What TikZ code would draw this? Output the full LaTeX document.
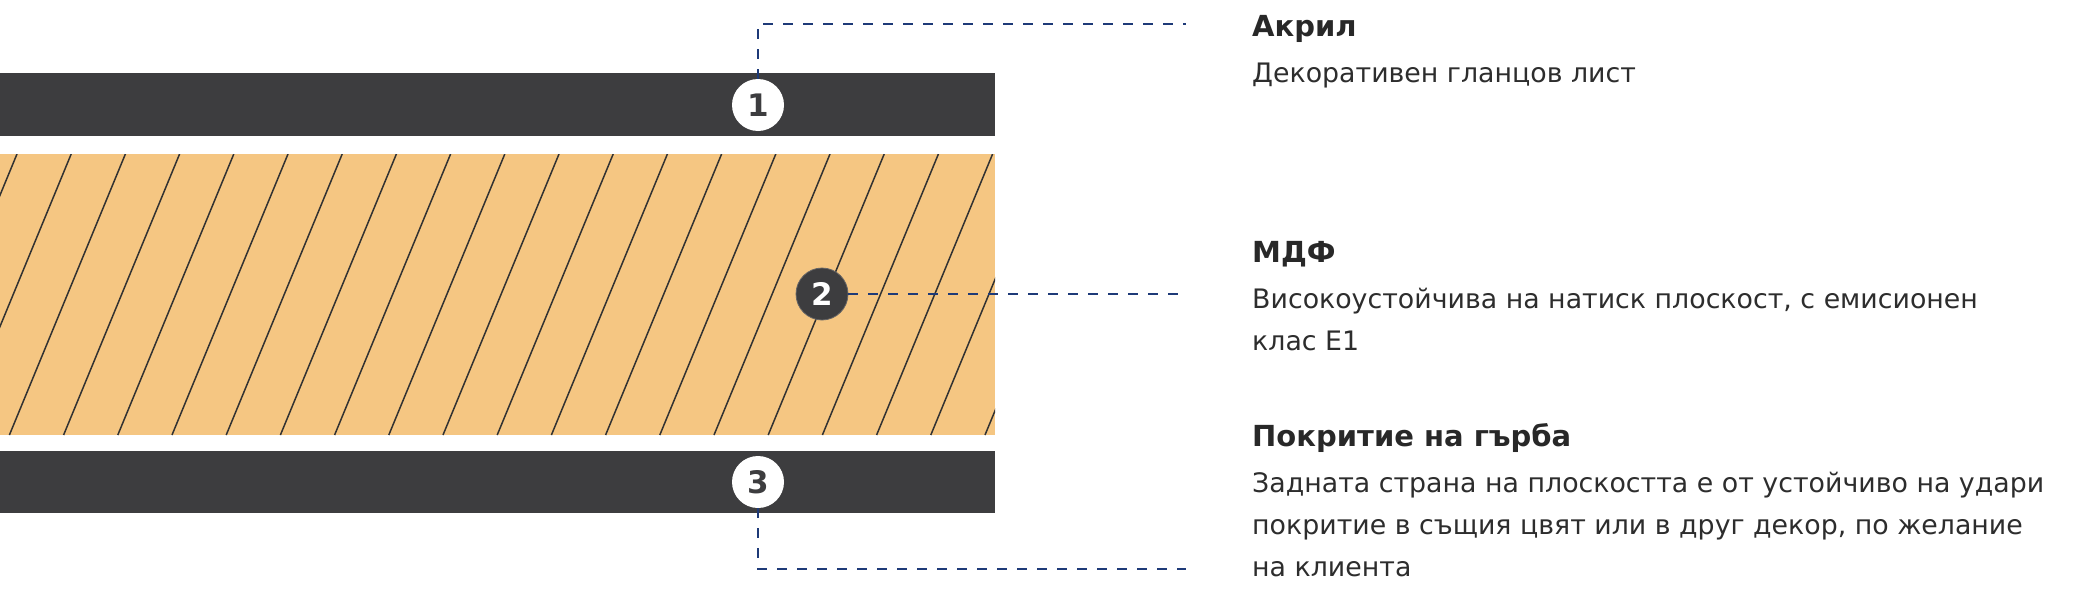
\documentclass[tikz,border=0pt]{standalone}
\usepackage{fontspec}
\setmainfont{DejaVu Sans}
\definecolor{bar}{RGB}{61,61,63}
\definecolor{mdf}{RGB}{245,198,130}
\definecolor{hatch}{RGB}{50,50,50}
\definecolor{leadc}{RGB}{30,58,120}
\definecolor{titlec}{RGB}{40,40,40}
\definecolor{bodyc}{RGB}{45,45,45}
\tikzset{
  leader/.style={draw=leadc, line width=2pt, dash pattern=on 10pt off 10pt},
  numw/.style={circle, fill=white, text=bar, minimum size=52pt, inner sep=0pt, font=\fontsize{31}{31}\selectfont\bfseries},
  numd/.style={circle, fill=bar, draw=bar!80!white, line width=0.8pt, text=white, minimum size=52pt, inner sep=0pt, font=\fontsize{31}{31}\selectfont\bfseries},
  ttl/.style={anchor=base west, inner sep=0pt, text=titlec, font=\fontsize{29}{29}\selectfont\bfseries},
  bdy/.style={anchor=base west, inner sep=0pt, text=bodyc, font=\fontsize{26.8}{26.8}\selectfont},
}
\begin{document}
\begin{tikzpicture}[x=1pt,y=-1pt]
\useasboundingbox (0,0) rectangle (2078,589);
% layers
\fill[bar] (0,73) rectangle (995,136);
\fill[mdf] (0,154) rectangle (995,435);
\begin{scope}
  \clip (0,154) rectangle (995,435);
  \foreach \k in {0,...,21}{
    \draw[hatch, line width=1.5pt] ({17+54.2*\k},154) -- ({17+54.2*\k-116},435);
  }
\end{scope}
\fill[bar] (0,451) rectangle (995,513);
% markers
\node[numw] (c1) at (758,105) {1};
\node[numd] (c2) at (822,294) {2};
\node[numw] (c3) at (758,482) {3};
\coordinate (e1) at (1186,24);
\coordinate (e2) at (1186,294);
\coordinate (e3) at (1186,569);
\draw[leader] (c1.north) |- (e1);
\draw[leader] (c2.east) -- (e2);
\draw[leader] (c3.south) |- (e3);
% texts
\node[ttl] (t1) at (1252,36) {Акрил};
\node[bdy] (b1) at (1252,82) {Декоративен гланцов лист};
\node[ttl] (t2) at (1252,262) {МДФ};
\node[bdy] (b2a) at (1252,308) {Високоустойчива на натиск плоскост, с емисионен};
\node[bdy] (b2b) at (1252,350) {клас Е1};
\node[ttl] (t3) at (1252,446) {Покритие на гърба};
\node[bdy] (b3a) at (1252,492) {Задната страна на плоскостта е от устойчиво на удари};
\node[bdy] (b3b) at (1252,534) {покритие в същия цвят или в друг декор, по желание};
\node[bdy] (b3c) at (1252,576) {на клиента};
\end{tikzpicture}
\end{document}
